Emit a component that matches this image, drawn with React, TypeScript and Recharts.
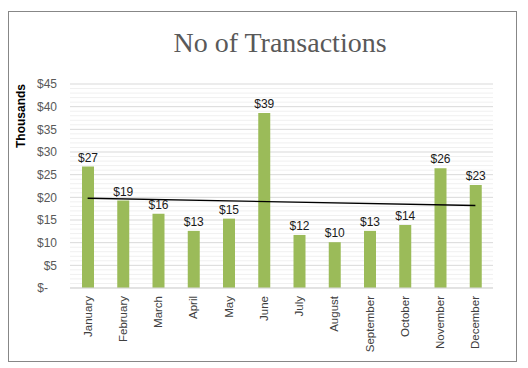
import * as React from 'react';
import {
  ComposedChart,
  Bar,
  Line,
  XAxis,
  YAxis,
  CartesianGrid,
  LabelList,
} from 'recharts';

// values in thousands of dollars
const months = [
  'January', 'February', 'March', 'April', 'May', 'June',
  'July', 'August', 'September', 'October', 'November', 'December',
];
const transactions = [26.8, 19.3, 16.4, 12.6, 15.3, 38.6, 11.7, 10.1, 12.6, 13.9, 26.4, 22.7];
// linear trendline, only its two ends are drawn
const trend = [19.8, null, null, null, null, null, null, null, null, null, null, 18.2];
const yMax = 45;
const yTicks = [0, 5, 10, 15, 20, 25, 30, 35, 40, 45];
const minorTicks = Array.from({ length: 46 }, (_, i) => i).filter((v) => v % 5 !== 0);

const data = months.map((month, i) => ({
  month,
  value: transactions[i],
  trend: trend[i],
}));

const FONT = '"Liberation Sans", Arial, sans-serif';

// map a value to a y pixel using whatever scale shape the grid hands over
function toY(yAxis: any, offset: any, v: number): number {
  const s = yAxis?.scale;
  if (typeof s === 'function') return s(v);
  if (s && typeof s.map === 'function') return s.map(v);
  return offset.top + offset.height * (1 - v / yMax);
}

function YTick({ x, y, payload }: any) {
  const v = payload.value as number;
  return (
    <text
      x={v === 0 ? x - 9 : x}
      y={y}
      dy="0.35em"
      textAnchor="end"
      fontFamily={FONT}
      fontSize={12}
      fill="#595959"
    >
      {v === 0 ? '$-' : `$${v}`}
    </text>
  );
}

function XTick({ x, y, payload }: any) {
  return (
    <g transform={`translate(${x},${y})`}>
      <text
        transform="rotate(-90)"
        textAnchor="end"
        dy="0.35em"
        fontFamily={FONT}
        fontSize={11.5}
        fill="#404040"
      >
        {payload.value}
      </text>
    </g>
  );
}

export default function App() {
  return (
    <div
      style={{
        position: 'absolute',
        left: 0,
        top: 0,
        width: 528,
        height: 368,
        background: '#fff',
      }}
    >
      {/* chart area border */}
      <div
        style={{
          position: 'absolute',
          left: 8,
          top: 11,
          width: 507,
          height: 349,
          border: '1px solid #878787',
        }}
      />
      <div
        style={{
          position: 'absolute',
          left: 0,
          width: 560,
          top: 27,
          textAlign: 'center',
          fontFamily: '"Liberation Serif", "Times New Roman", serif',
          fontSize: 28,
          color: '#595959',
          whiteSpace: 'nowrap',
        }}
      >
        No of Transactions
      </div>
      <div
        style={{
          position: 'absolute',
          left: 21,
          top: 116,
          transform: 'translate(-50%, -50%) rotate(-90deg)',
          fontFamily: FONT,
          fontSize: 12,
          fontWeight: 'bold',
          color: '#000',
          whiteSpace: 'nowrap',
        }}
      >
        Thousands
      </div>
      <ComposedChart
        width={528}
        height={368}
        data={data}
        margin={{ top: 84, right: 35, left: 0, bottom: 0 }}
        style={{ position: 'absolute', left: 0, top: 0 }}
      >
        {/* minor gridlines */}
        <CartesianGrid
          vertical={false}
          stroke="#f0f0f0"
          horizontalCoordinatesGenerator={({ yAxis, offset }: any) =>
            minorTicks.map((v) => toY(yAxis, offset, v))
          }
        />
        <CartesianGrid vertical={false} stroke="#d9d9d9" />
        <XAxis
          dataKey="month"
          interval={0}
          height={80}
          tickLine={false}
          axisLine={{ stroke: '#d9d9d9' }}
          tick={<XTick />}
          tickMargin={2}
        />
        <YAxis
          width={70}
          domain={[0, yMax]}
          ticks={yTicks}
          interval={0}
          tickLine={false}
          axisLine={false}
          tickMargin={7}
          tick={<YTick />}
        />
        <Bar dataKey="value" fill="#9bbb59" barSize={12} isAnimationActive={false}>
          <LabelList
            dataKey="value"
            position="top"
            offset={5}
            formatter={(v: any) => `$${Math.round(v)}`}
            style={{ fontFamily: FONT, fontSize: 12, fill: '#1a1a1a' }}
          />
        </Bar>
        <Line
          dataKey="trend"
          stroke="#000"
          strokeWidth={1.3}
          dot={false}
          activeDot={false}
          connectNulls
          isAnimationActive={false}
        />
      </ComposedChart>
    </div>
  );
}
